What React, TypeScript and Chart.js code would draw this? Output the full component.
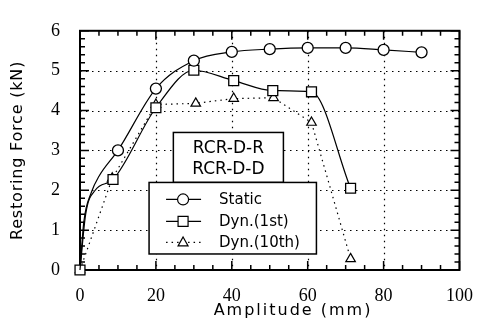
import React, { useEffect, useRef } from "react";
import { Chart, registerables } from "chart.js";

Chart.register(...registerables);

// Static test
const ampStatic = [0, 1, 3, 5, 10, 20, 30, 40, 50, 60, 70, 80, 90];
const forceStatic = [0, 1.2, 1.95, 2.35, 3.0, 4.55, 5.25, 5.47, 5.54, 5.57, 5.57, 5.52, 5.46];
const markStatic = [false, false, false, false, true, true, true, true, true, true, true, true, true];

// Dynamic, 1st cycle
const amp1st = [0, 1.5, 4, 8.7, 20, 30, 40.5, 50.8, 61, 71.3];
const force1st = [0, 1.4, 2.0, 2.27, 4.07, 5.01, 4.75, 4.5, 4.47, 2.05];
const mark1st = [true, false, false, true, true, true, true, true, true, true];

// Dynamic, 10th cycle
const amp10th = [0, 8.5, 20, 30.5, 40.5, 51, 61, 71.3];
const force10th = [0, 2.3, 4.15, 4.18, 4.3, 4.32, 3.7, 0.28];

const xTicks = [0, 20, 40, 60, 80, 100];
const yTicks = [0, 1, 2, 3, 4, 5, 6];
const seriesNames = ["Static", "Dyn.(1st)", "Dyn.(10th)"];
const boxTitle = ["RCR-D-R", "RCR-D-D"];
const xTitle = "Amplitude (mm)";
const yTitle = "Restoring Force (kN)";

const pts = (xs: number[], ys: number[]) => xs.map((x, i) => ({ x, y: ys[i] }));

const framePlugin = {
  id: "frame",
  beforeDatasetsDraw(chart: any) {
    const { ctx, chartArea: a, scales } = chart;
    const sx = scales.x, sy = scales.y;
    ctx.save();
    // dotted grid
    ctx.strokeStyle = "#000";
    ctx.lineWidth = 1.2;
    ctx.setLineDash([1.5, 4.5]);
    for (const v of xTicks) {
      if (v === 0 || v === 100) continue;
      const px = Math.round(sx.getPixelForValue(v)) + 0.5;
      ctx.beginPath();
      ctx.moveTo(px, a.top);
      ctx.lineTo(px, a.bottom);
      ctx.stroke();
    }
    for (const v of yTicks) {
      if (v === 0 || v === 6) continue;
      const py = Math.round(sy.getPixelForValue(v)) + 0.5;
      ctx.beginPath();
      ctx.moveTo(a.left, py);
      ctx.lineTo(a.right, py);
      ctx.stroke();
    }
    ctx.setLineDash([]);
    // ticks
    ctx.lineWidth = 1.5;
    for (let v = 0; v <= 100; v += 5) {
      const px = sx.getPixelForValue(v);
      const len = v % 20 === 0 ? 9 : 5;
      ctx.beginPath();
      ctx.moveTo(px, a.bottom);
      ctx.lineTo(px, a.bottom - len);
      ctx.moveTo(px, a.top);
      ctx.lineTo(px, a.top + len);
      ctx.stroke();
    }
    for (let i = 0; i <= 30; i++) {
      const v = i / 5;
      const py = sy.getPixelForValue(v);
      const len = i % 5 === 0 ? 9 : 5;
      ctx.beginPath();
      ctx.moveTo(a.left, py);
      ctx.lineTo(a.left + len, py);
      ctx.moveTo(a.right, py);
      ctx.lineTo(a.right - len, py);
      ctx.stroke();
    }
    // frame
    ctx.lineWidth = 2;
    ctx.strokeRect(a.left, a.top, a.right - a.left, a.bottom - a.top);
    ctx.restore();
  },
  afterDatasetsDraw(chart: any) {
    const { ctx, chartArea: a } = chart;
    const W = a.right - a.left, H = a.bottom - a.top;
    ctx.save();
    ctx.strokeStyle = "#000";
    ctx.fillStyle = "#fff";
    ctx.lineWidth = 1.5;
    // title box
    const tl = a.left + 0.246 * W, tr = a.left + 0.536 * W;
    const tt = a.top + 0.425 * H, tb = a.top + 0.634 * H;
    ctx.fillRect(tl, tt, tr - tl, tb - tt);
    ctx.strokeRect(tl, tt, tr - tl, tb - tt);
    ctx.fillStyle = "#000";
    ctx.font = "17px 'DejaVu Sans'";
    ctx.textAlign = "center";
    ctx.textBaseline = "middle";
    const tcx = (tl + tr) / 2;
    ctx.fillText(boxTitle[0], tcx, tt + 0.32 * (tb - tt));
    ctx.fillText(boxTitle[1], tcx, tt + 0.74 * (tb - tt));
    // legend box
    const ll = a.left + 0.182 * W, lr = a.left + 0.623 * W;
    const lt = tb, lb = a.top + 0.933 * H;
    ctx.fillStyle = "#fff";
    ctx.fillRect(ll, lt, lr - ll, lb - lt);
    ctx.strokeRect(ll, lt, lr - ll, lb - lt);
    const rows = [lt + 17, lt + 39, lt + 60];
    const x0 = ll + 17, x1 = ll + 52, xm = ll + 34;
    ctx.font = "15px 'DejaVu Sans'";
    ctx.textAlign = "left";
    rows.forEach((ry, i) => {
      ctx.strokeStyle = "#000";
      ctx.lineWidth = 1.2;
      if (i === 2) ctx.setLineDash([1.5, 4]);
      ctx.beginPath();
      ctx.moveTo(x0, ry);
      ctx.lineTo(x1, ry);
      ctx.stroke();
      ctx.setLineDash([]);
      ctx.fillStyle = "#fff";
      ctx.beginPath();
      if (i === 0) ctx.arc(xm, ry, 5.5, 0, Math.PI * 2);
      else if (i === 1) ctx.rect(xm - 5, ry - 5, 10, 10);
      else {
        ctx.moveTo(xm, ry - 5.5);
        ctx.lineTo(xm + 5, ry + 3.5);
        ctx.lineTo(xm - 5, ry + 3.5);
        ctx.closePath();
      }
      ctx.fill();
      ctx.stroke();
      ctx.fillStyle = "#000";
      ctx.fillText(seriesNames[i], ll + 70, ry + 1);
    });
    ctx.restore();
  },
  afterDraw(chart: any) {
    const { ctx, chartArea: a } = chart;
    ctx.save();
    ctx.fillStyle = "#000";
    ctx.textAlign = "center";
    ctx.textBaseline = "middle";
    ctx.font = "16px 'DejaVu Sans'";
    (ctx as any).letterSpacing = "2px";
    ctx.fillText(xTitle, 293, 311);
    (ctx as any).letterSpacing = "0.8px";
    ctx.translate(18, (a.top + a.bottom) / 2);
    ctx.rotate(-Math.PI / 2);
    ctx.fillText(yTitle, 0, 0);
    ctx.restore();
  },
};

export default function App() {
  const ref = useRef<HTMLCanvasElement | null>(null);
  useEffect(() => {
    const canvas = ref.current!;
    const chart = new Chart(canvas, {
      type: "line",
      data: {
        datasets: [
          {
            label: seriesNames[0],
            data: pts(ampStatic, forceStatic),
            borderColor: "#000",
            borderWidth: 1.2,
            pointStyle: "circle",
            pointRadius: markStatic.map((m) => (m ? 5.5 : 0)),
            pointBackgroundColor: "#fff",
            pointBorderColor: "#000",
            pointBorderWidth: 1.3,
            cubicInterpolationMode: "monotone",
            clip: false,
          },
          {
            label: seriesNames[1],
            data: pts(amp1st, force1st),
            borderColor: "#000",
            borderWidth: 1.2,
            pointStyle: "rect",
            pointRadius: mark1st.map((m) => (m ? 7 : 0)),
            pointBackgroundColor: "#fff",
            pointBorderColor: "#000",
            pointBorderWidth: 1.3,
            cubicInterpolationMode: "monotone",
            clip: false,
          },
          {
            label: seriesNames[2],
            data: pts(amp10th, force10th),
            borderColor: "#000",
            borderWidth: 1.2,
            borderDash: [1.5, 4],
            pointStyle: "triangle",
            pointRadius: 5.5,
            pointBackgroundColor: "#fff",
            pointBorderColor: "#000",
            pointBorderWidth: 1.2,
            tension: 0,
            clip: false,
          },
        ],
      },
      options: {
        responsive: false,
        animation: false,
        devicePixelRatio: 1,
        layout: { padding: { top: 16, right: 18, left: 0, bottom: 0 } },
        plugins: { legend: { display: false }, tooltip: { enabled: false } },
        scales: {
          x: {
            type: "linear",
            min: 0,
            max: 100,
            afterBuildTicks: (s: any) => {
              s.ticks = xTicks.map((v) => ({ value: v }));
            },
            ticks: {
              color: "#000",
              font: { family: "'Liberation Serif'", size: 18 },
              padding: 15,
              maxRotation: 0,
              autoSkip: false,
            },
            grid: { display: false, drawTicks: false },
            border: { display: false },
            afterFit: (s: any) => {
              s.height = 58;
            },
          },
          y: {
            type: "linear",
            min: 0,
            max: 6,
            afterBuildTicks: (s: any) => {
              s.ticks = yTicks.map((v) => ({ value: v }));
            },
            ticks: {
              color: "#000",
              font: { family: "'Liberation Serif'", size: 18 },
              padding: 20,
              autoSkip: false,
            },
            grid: { display: false, drawTicks: false },
            border: { display: false },
            afterFit: (s: any) => {
              s.width = 80;
            },
          },
        },
      },
      plugins: [framePlugin],
    });
    return () => chart.destroy();
  }, []);
  return (
    <div style={{ position: "fixed", left: 0, top: 0, width: 488, height: 328, background: "#fff" }}>
      <canvas ref={ref} width={488} height={328} />
    </div>
  );
}
